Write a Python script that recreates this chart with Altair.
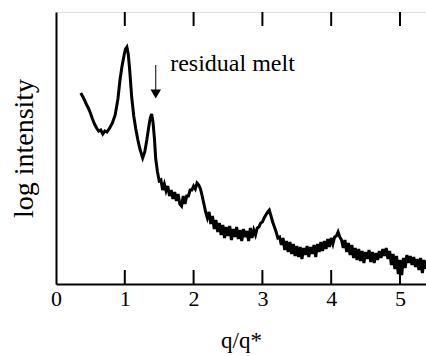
import altair as alt
import pandas as pd

# q/q* values and relative log intensity (arbitrary units)
q_low = [0.36, 0.40, 0.44, 0.47, 0.50, 0.53, 0.56, 0.59, 0.62, 0.65, 0.68, 0.71,
         0.74, 0.78, 0.82, 0.86, 0.90, 0.93, 0.96, 0.99, 1.01, 1.03, 1.05, 1.07,
         1.10, 1.13, 1.16, 1.19, 1.22, 1.26, 1.29, 1.32, 1.35, 1.37, 1.39, 1.41, 1.43]
i_low = [191, 186, 180, 176, 171, 165, 160, 156, 153, 154, 150, 153,
         152, 156, 161, 169, 185, 204, 218, 229, 235, 237, 230, 215,
         187, 168, 155, 144, 135, 126, 132, 144, 158, 166, 170, 162, 146]

q_high = [1.450 + 0.025 * k for k in range(158)]
i_high = [125, 112, 103, 104, 94, 100, 93, 98, 88, 94, 85, 92, 83, 90, 80, 78,
          88, 80, 88, 88, 94, 94, 98, 95, 101, 99, 95, 88, 80, 72, 66, 72,
          60, 68, 55, 64, 52, 61, 49, 59, 46, 57, 48, 58, 44, 55, 47, 57,
          45, 54, 43, 55, 47, 53, 43, 56, 46, 54, 49, 56, 57, 61, 62, 66,
          69, 72, 74, 68, 62, 57, 52, 46, 47, 39, 46, 34, 43, 32, 42, 30,
          40, 28, 38, 27, 37, 25, 36, 29, 38, 27, 37, 30, 39, 27, 40, 32,
          42, 33, 43, 35, 45, 37, 46, 40, 47, 48, 52, 47, 44, 36, 44, 32,
          41, 29, 39, 26, 36, 24, 35, 23, 33, 21, 32, 25, 34, 22, 32, 21,
          31, 24, 33, 26, 35, 28, 36, 25, 33, 19, 30, 15, 28, 10, 24, 9,
          26, 16, 29, 21, 28, 19, 27, 17, 25, 14, 26, 11, 24, 15]

axis_values = [0, 1, 2, 3, 4, 5]
tick_values = [1, 2, 3, 4, 5]

arrow_q = [1.45]
arrow_top = [219]
arrow_head = [190]
label_q = [1.66]
label_i = [213]
label_text = ["residual melt"]

df = pd.DataFrame({"q": [round(v, 3) for v in q_low + q_high[:len(i_high)]],
                   "I": i_low + i_high})
ticks_df = pd.DataFrame({"q": tick_values})
arrow_df = pd.DataFrame({"q": arrow_q, "top": arrow_top, "head": arrow_head})
label_df = pd.DataFrame({"q": label_q, "I": label_i, "t": label_text})

FONT = "Liberation Serif"
xs = alt.Scale(domain=[0, 5.378], nice=False, zero=False)
ys = alt.Scale(domain=[0, 272], nice=False, zero=False)

line = alt.Chart(df).mark_line(color="black", strokeWidth=3, clip=True).encode(
    x=alt.X("q:Q", scale=xs, title="q/q*",
            axis=alt.Axis(values=axis_values, format="d", ticks=False, tickSize=0,
                          grid=False, labelFont=FONT, labelFontSize=22,
                          labelColor="black", labelPadding=4, labelFlush=False,
                          domainColor="black", domainWidth=2,
                          titleFont=FONT, titleFontSize=23, titleFontWeight="normal",
                          titleColor="black", titlePadding=20)),
    y=alt.Y("I:Q", scale=ys, title="log intensity",
            axis=alt.Axis(labels=False, ticks=False, grid=False,
                          domainColor="black", domainWidth=2,
                          titleFont=FONT, titleFontSize=28, titleFontWeight="normal",
                          titleColor="black", titlePadding=18)),
)

bottom_ticks = alt.Chart(ticks_df).mark_rule(color="black", strokeWidth=2).encode(
    x=alt.X("q:Q", scale=xs), y=alt.value(272), y2=alt.value(258))
top_ticks = alt.Chart(ticks_df).mark_rule(color="black", strokeWidth=2).encode(
    x=alt.X("q:Q", scale=xs), y=alt.value(0), y2=alt.value(14))

shaft = alt.Chart(arrow_df).mark_rule(color="black", strokeWidth=1).encode(
    x=alt.X("q:Q", scale=xs), y=alt.Y("top:Q", scale=ys), y2="head:Q")
head = alt.Chart(arrow_df).mark_point(shape="triangle-down", filled=True, color="black",
                                      size=110, opacity=1).encode(
    x=alt.X("q:Q", scale=xs), y=alt.Y("head:Q", scale=ys))

label = alt.Chart(label_df).mark_text(font=FONT, fontSize=24, align="left",
                                      baseline="alphabetic", color="black").encode(
    x=alt.X("q:Q", scale=xs), y=alt.Y("I:Q", scale=ys), text="t:N")

chart = alt.layer(line, bottom_ticks, top_ticks, shaft, head, label).properties(
    width=370, height=272,
    padding={"left": 56, "top": 12, "right": 0, "bottom": 72},
    autosize=alt.AutoSizeParams(type="none"),
).configure_view(stroke="black", strokeWidth=2).configure(
    background="white", font=FONT)

chart.save("out.html", embed_options={"renderer": "svg", "actions": False})
